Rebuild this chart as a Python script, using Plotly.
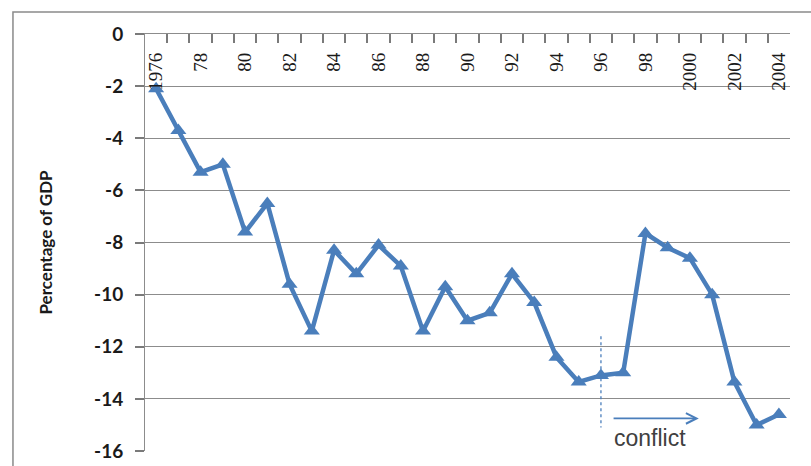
import plotly.graph_objects as go

# Annual balance, percentage of GDP
years = list(range(1976, 2005))
balance = [-2.1, -3.7, -5.3, -5.0, -7.6, -6.5, -9.6, -11.4, -8.3, -9.2,
           -8.1, -8.9, -11.4, -9.7, -11.0, -10.7, -9.2, -10.3, -12.4, -13.35,
           -13.1, -13.0, -7.65, -8.2, -8.6, -10.0, -13.35, -15.0, -14.6]

tick_years = years[::2]
tick_text = ["1976", "78", "80", "82", "84", "86", "88", "90", "92", "94",
             "96", "98", "2000", "2002", "2004"]

y_ticks = list(range(-16, 1, 2))
y_tick_text = [str(v) for v in y_ticks]

# conflict marker: dashed line at onset, arrow pointing forward
conflict_year = 1996
conflict_line_y = [-11.6, -15.1]
arrow_from = 1996.5
arrow_to = 2000.4
arrow_y = -14.75
conflict_label_x = 1998.2
conflict_label_y = -15.5

BLUE = "#4A7EBB"
GRID = "#8C8C8C"
TICK = "#7A7A7A"
X_RANGE = [1975.5, 2004.5]
category_edges = [y + 0.5 for y in range(1975, 2005)]

fig = go.Figure()

fig.add_trace(go.Scatter(
    x=years, y=balance, mode="lines+markers",
    line=dict(color=BLUE, width=4.5),
    marker=dict(symbol="triangle-up", size=14, color=BLUE),
    showlegend=False, hoverinfo="x+y",
))

# invisible carrier trace for the year-label axis
fig.add_trace(go.Scatter(
    x=years, y=balance, mode="none", xaxis="x2",
    showlegend=False, hoverinfo="skip",
))

fig.add_trace(go.Scatter(
    x=[conflict_year, conflict_year], y=conflict_line_y, mode="lines",
    line=dict(color=BLUE, width=1.3, dash="dot"),
    showlegend=False, hoverinfo="skip",
))

fig.add_annotation(
    x=arrow_to, y=arrow_y, ax=arrow_from, ay=arrow_y,
    xref="x", yref="y", axref="x", ayref="y",
    showarrow=True, arrowhead=5, arrowsize=1.3, arrowwidth=1.6,
    arrowcolor=BLUE, text="",
)

fig.add_annotation(
    x=conflict_label_x, y=conflict_label_y, xref="x", yref="y",
    text="conflict", showarrow=False,
    font=dict(family="Liberation Sans, Arial, sans-serif", size=23, color="#404040"),
)

# y-axis title
fig.add_annotation(
    x=-0.155, y=0.5, xref="paper", yref="paper", textangle=-90,
    xanchor="center", yanchor="middle",
    text="<b>Percentage of GDP</b>", showarrow=False,
    font=dict(family="Lato, sans-serif", size=17, color="#1a1a1a"),
)

# chart-area border
fig.add_shape(type="rect", xref="paper", yref="paper",
              x0=-0.2047, x1=1.04, y0=-0.06, y1=1.0528,
              line=dict(color="#8A8A8A", width=1.5), layer="below")

fig.update_layout(
    width=811, height=466,
    margin=dict(l=145, r=21, t=34, b=15, autoexpand=False),
    paper_bgcolor="white", plot_bgcolor="white",
    xaxis=dict(
        range=X_RANGE, automargin=False,
        anchor="y", side="top",
        tickmode="array", tickvals=category_edges,
        ticks="inside", ticklen=9, tickcolor=TICK, tickwidth=1.5,
        showticklabels=False,
        showline=True, linecolor=GRID, linewidth=1, mirror=False,
        showgrid=False, zeroline=False,
        fixedrange=True,
    ),
    xaxis2=dict(
        range=X_RANGE, automargin=False, overlaying="x",
        anchor="free", position=1, side="bottom",
        tickmode="array", tickvals=tick_years, ticktext=tick_text,
        tickangle=-90, ticks="", ticklabelstandoff=14,
        tickfont=dict(family="Liberation Serif, Times New Roman, serif", size=19, color="#1a1a1a"),
        showline=False, showgrid=False, zeroline=False,
        fixedrange=True,
    ),
    yaxis=dict(
        range=[-16, 0], automargin=False,
        tickmode="array", tickvals=y_ticks, ticktext=y_tick_text,
        ticks="outside", ticklen=9, tickcolor=TICK, tickwidth=1.5,
        ticklabelstandoff=8,
        tickfont=dict(family="Lato, sans-serif", size=19, color="#1a1a1a", weight="bold"),
        showgrid=True, gridcolor=GRID, gridwidth=1,
        showline=True, linecolor=GRID, linewidth=1,
        zeroline=False,
        fixedrange=True,
    ),
)

fig.write_html("out.html")
